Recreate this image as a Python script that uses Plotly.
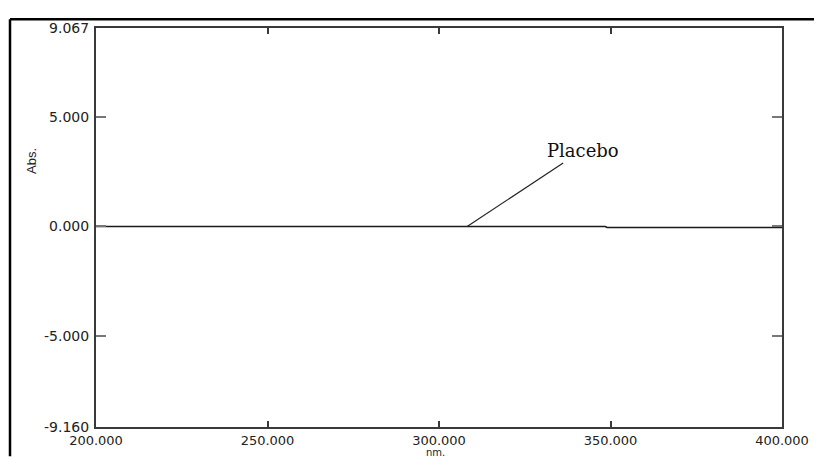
import plotly.graph_objects as go

# ---- data ----
wavelength_nm = [200.0, 348.5, 349.0, 400.0]
absorbance = [0.0, 0.0, -0.045, -0.045]

x_ticks = [200, 250, 300, 350, 400]
x_tick_labels = ["200.000", "250.000", "300.000", "350.000", "400.000"]
y_ticks = [-9.160, -5.0, 0.0, 5.0, 9.067]
y_tick_labels = ["-9.160", "-5.000", "0.000", "5.000", "9.067"]

label_text = "Placebo"
label_point = (308.2, 0.0)      # where the leader line touches the trace
label_elbow = (336.2, 2.90)     # upper end of leader line
label_pos = (342.0, 3.45)       # text centre

# page has an 8px body margin; work in page pixels
OFF = 8
W, H = 822 - OFF, 460 - OFF
PL, PR, PT, PB = 96, 782, 22, 430          # plot area in page pixels
L, R, T, B = PL - OFF, (W + OFF) - PR, PT - OFF, (H + OFF) - PB
pw, ph = PR - PL, PB - PT

def px_x(p):
    return (p - PL) / pw

def px_y(p):
    return 1 - (p - PT) / ph

fig = go.Figure()
fig.add_trace(go.Scatter(
    x=wavelength_nm, y=absorbance, mode="lines",
    line=dict(color="#1a1a1a", width=1.5), showlegend=False,
    hoverinfo="skip",
))

tick_font = dict(family="DejaVu Sans", size=14, color="#222")
xtick_font = dict(family="DejaVu Sans", size=13, color="#222")

fig.update_layout(
    width=W, height=H,
    margin=dict(l=L, r=R, t=T, b=B, pad=0),
    paper_bgcolor="white", plot_bgcolor="white",
    showlegend=False,
    xaxis=dict(
        range=[200, 400], tickvals=x_ticks, ticktext=x_tick_labels,
        showgrid=False, zeroline=False,
        showline=True, linecolor="#3a3a3a", linewidth=2, mirror="allticks",
        ticks="inside", ticklen=6, tickwidth=2, tickcolor="#3a3a3a",
        tickfont=xtick_font,
    ),
    yaxis=dict(
        range=[-9.160, 9.067], tickvals=y_ticks, ticktext=y_tick_labels,
        showgrid=False, zeroline=False,
        showline=True, linecolor="#3a3a3a", linewidth=2, mirror="allticks",
        ticks="inside", ticklen=10, tickwidth=1.5, tickcolor="#777",
        tickfont=tick_font, ticklabelstandoff=2,
    ),
)

# leader line and label
fig.add_shape(type="line", xref="x", yref="y",
              x0=label_point[0], y0=label_point[1],
              x1=label_elbow[0], y1=label_elbow[1],
              line=dict(color="#222", width=1.2))
fig.add_annotation(x=label_pos[0], y=label_pos[1], xref="x", yref="y",
                   text=label_text, showarrow=False,
                   xanchor="center", yanchor="middle",
                   font=dict(family="DejaVu Serif", size=18, color="#111"))

# axis titles
fig.add_annotation(x=px_x(32), y=px_y(158), xref="paper", yref="paper",
                   xanchor="center", yanchor="middle",
                   text="Abs.", showarrow=False, textangle=-90,
                   font=dict(family="Liberation Sans", size=13, color="#222"))
fig.add_annotation(x=px_x(435), y=px_y(448.5), xref="paper", yref="paper",
                   xanchor="center", yanchor="top",
                   text="nm.", showarrow=False,
                   font=dict(family="DejaVu Sans", size=10, color="#222"))

# outer frame (top and left edges)
fig.add_shape(type="line", xref="paper", yref="paper",
              x0=px_x(10), y0=px_y(13), x1=px_x(822), y1=px_y(13),
              line=dict(color="black", width=2.5))
fig.add_shape(type="line", xref="paper", yref="paper",
              x0=px_x(10), y0=px_y(13), x1=px_x(10), y1=px_y(460),
              line=dict(color="black", width=2.5))

fig.write_html("out.html")
